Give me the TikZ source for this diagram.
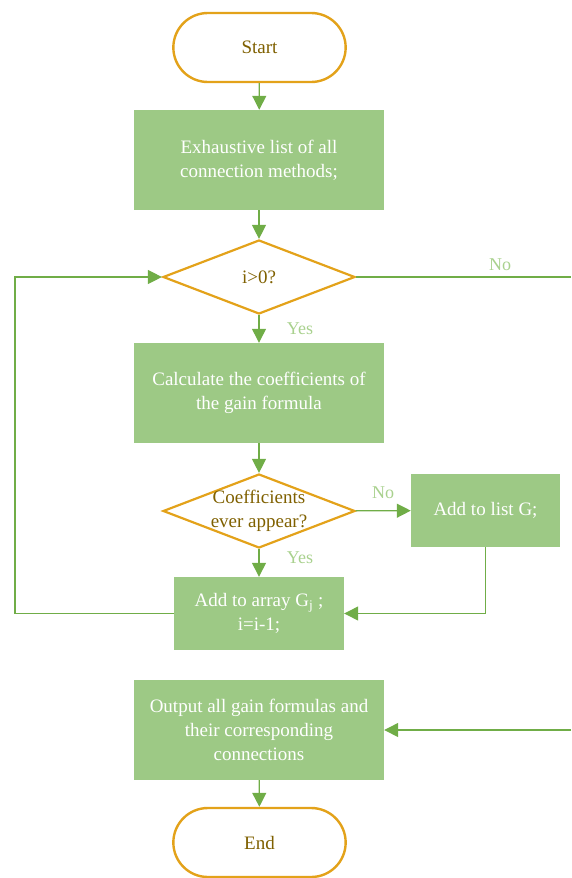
\documentclass[tikz,border=0pt]{standalone}
\usepackage{fontspec}
\setmainfont{Liberation Serif}
\usepackage{xcolor}
\usetikzlibrary{shapes.geometric, shapes.misc, arrows.meta, positioning}
\definecolor{boxfill}{RGB}{157,201,133}
\definecolor{gold}{RGB}{227,162,26}
\definecolor{darkgold}{RGB}{127,96,0}
\definecolor{linegreen}{RGB}{112,173,71}
\definecolor{labelgreen}{RGB}{169,209,142}

\begin{document}
\begin{tikzpicture}[x=1pt, y=-1pt,
  font=\fontsize{19}{24}\selectfont,
  terminal/.style={rounded rectangle, draw=gold, line width=2.4pt, fill=white, text=darkgold, minimum width=179pt, minimum height=69pt},
  process/.style={rectangle, fill=boxfill, text=white, align=center, minimum width=250pt, minimum height=100pt, inner sep=0pt},
  decision/.style={diamond, draw=gold, line width=2.2pt, minimum width=192pt, minimum height=74pt, inner sep=0pt},
  arrow/.style={-{Triangle[length=14pt, width=14pt]}, line width=1.3pt, linegreen},
  link/.style={line width=1.3pt, linegreen},
  branch/.style={text=labelgreen, font=\fontsize{18}{22}\selectfont},
]
\useasboundingbox (0,0) rectangle (571,878);
\node[terminal] (start) at (259.5,47.5) {Start};
\node[process] (list) at (259,160) {Exhaustive list of all\\connection methods;};
\node[decision, label={[text=darkgold]center:i>0?}] (cond) at (259,277) {};
\node[process] (calc) at (259,393) {Calculate the coefficients of\\the gain formula};
\node[decision, label={[text=darkgold, align=center]center:{Coefficients\\ever appear?}}] (appear) at (259,511) {};
\node[process, minimum width=149pt, minimum height=73pt] (listG) at (485.5,510.5) {Add to list G;};
\node[process, minimum width=170pt, minimum height=73pt] (array) at (259,613.5) {Add to array G\textsubscript{j} ;\\i=i-1;};
\node[process] (output) at (259,730) {Output all gain formulas and\\their corresponding\\connections};
\node[terminal] (end) at (259.5,842.5) {End};
\coordinate (noEnd) at (571,277);
\coordinate (backIn) at (571,730);
\coordinate (loopBot) at (15,613.5);

\draw[arrow] (start) -- (list);
\draw[arrow] (list) -- (cond);
\draw[arrow] (cond) -- node[branch, right=24pt] {Yes} (calc);
\draw[link] (cond.east) -- node[branch, above=2pt, pos=0.67] {No} (noEnd);
\draw[arrow] (calc) -- (appear);
\draw[arrow] (appear) -- node[branch, above=8pt] {No} (listG);
\draw[arrow] (appear) -- node[branch, right=24pt, yshift=5pt] {Yes} (array);
\draw[arrow] (listG.south) |- (array.east);
\draw[arrow] (array.west) -- (loopBot) |- (cond.west);
\draw[arrow] (backIn) -- (output.east);
\draw[arrow] (output) -- (end);
\end{tikzpicture}
\end{document}
